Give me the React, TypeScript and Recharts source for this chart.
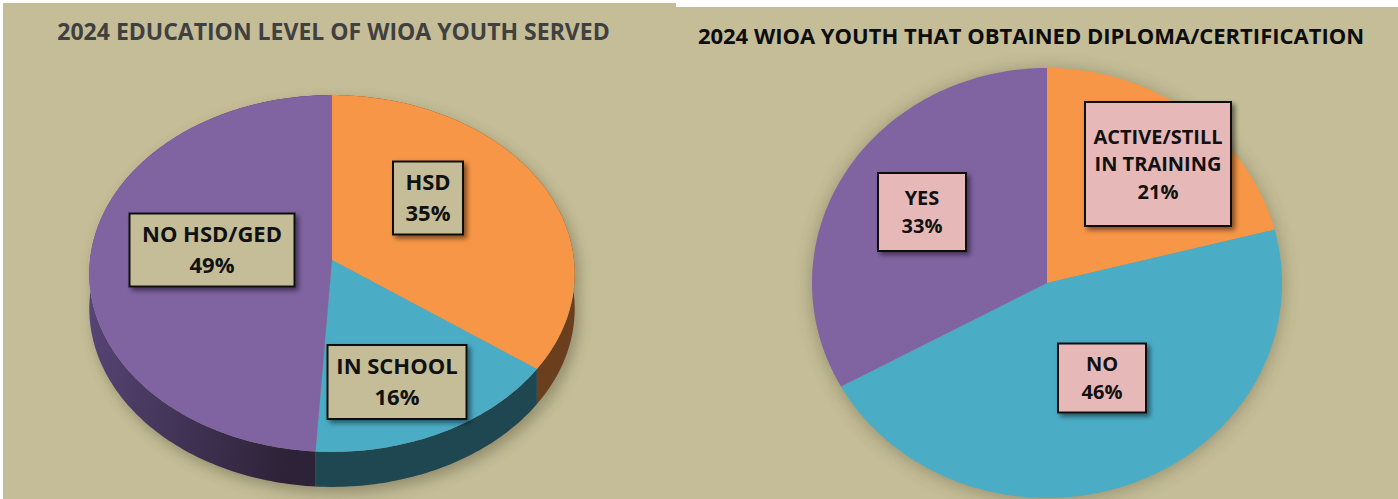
import React from 'react';
import { PieChart, Pie, Cell } from 'recharts';

// 2024 education level of WIOA youth served
const eduLevels = ['HSD', 'IN SCHOOL', 'NO HSD/GED'];
const eduShares = [35, 16, 49];

// 2024 WIOA youth that obtained diploma/certification
const diplomaStatus = ['ACTIVE/STILL IN TRAINING', 'NO', 'YES'];
const diplomaShares = [21, 46, 33];

const BG = '#C4BD97';
const TOP_COLORS = ['#F79646', '#4BACC6', '#8064A2'];
const SIDE_COLORS = ['#6B3E1E', '#1E4752', 'url(#purpleSide)'];
const FONT = "'Open Sans', sans-serif";
const NO_MARGIN = { top: 0, right: 0, bottom: 0, left: 0 };

// where each data label box sits, px from the pie centre
const EDU_BOXES = [
  { dx: 96, dy: -62, w: 70, h: 73 },
  { dx: 65, dy: 122, w: 139, h: 74 },
  { dx: -120, dy: -10, w: 165, h: 73 },
];
const DIPLOMA_BOXES = [
  { dx: 111, dy: -119, w: 146, h: 124 },
  { dx: 55, dy: 95, w: 88, h: 69 },
  { dx: -125, dy: -71, w: 88, h: 78 },
];

type Proj = { p: number; ky: number; depth: number };
// left pie is tilted (3D look), right one is flat but a bit wider than tall
const LEFT_PROJ: Proj = { p: 0.0756, ky: 0.733, depth: 35 };
const RIGHT_PROJ: Proj = { p: 0, ky: 0.915, depth: 0 };

const eduData = eduLevels.map((name, i) => ({ name, value: eduShares[i] }));
const diplomaData = diplomaStatus.map((name, i) => ({ name, value: diplomaShares[i] }));

function project(cx: number, cy: number, r: number, deg: number, pr: Proj) {
  const a = (deg * Math.PI) / 180;
  const u = Math.cos(a);
  const v = -Math.sin(a);
  const d = 1 - pr.p * v;
  return [cx + (r * u) / d, cy + (r * pr.ky * v) / d];
}

function arc(s: any, pr: Proj, shift = 0) {
  const n = Math.max(2, Math.ceil(Math.abs(s.endAngle - s.startAngle)));
  const pts: number[][] = [];
  for (let i = 0; i <= n; i++) {
    const deg = s.startAngle + ((s.endAngle - s.startAngle) * i) / n;
    const [x, y] = project(s.cx, s.cy, s.outerRadius, deg, pr);
    pts.push([x, y + shift]);
  }
  return pts;
}

const toPath = (pts: number[][]) =>
  'M' + pts.map(([x, y]) => `${x.toFixed(2)},${y.toFixed(2)}`).join('L') + 'Z';

const facePath = (s: any, pr: Proj) => toPath([[s.cx, s.cy], ...arc(s, pr)]);
const wallPath = (s: any, pr: Proj) => toPath([...arc(s, pr), ...arc(s, pr, pr.depth).reverse()]);

const faceShape = (pr: Proj) => (s: any) => <path d={facePath(s, pr)} fill={s.fill} stroke="none" />;
const wallShape = (pr: Proj) => (s: any) => <path d={wallPath(s, pr)} fill={s.fill} stroke="none" />;
const shadowShape = (pr: Proj, dx: number, dy: number, opacity: number, id: string) => (s: any) => (
  <g transform={`translate(${dx},${dy})`} filter={`url(#${id})`} opacity={opacity}>
    <path d={facePath(s, pr)} fill="#3a3520" />
    {pr.depth > 0 && <path d={wallPath(s, pr)} fill="#3a3520" />}
  </g>
);

// split long category names the way the chart wraps them
function wrap(text: string, max = 12) {
  const lines: string[] = [];
  let cur = '';
  text.split(' ').forEach((w) => {
    if (cur && (cur + ' ' + w).length > max) {
      lines.push(cur);
      cur = w;
    } else cur = cur ? cur + ' ' + w : w;
  });
  if (cur) lines.push(cur);
  return lines;
}

const boxLabel = (boxes: any[], fontSize: number, gap: number, fill: string) => (props: any) => {
  const { cx, cy, index } = props;
  const name = props.payload?.name ?? props.name;
  const value = props.payload?.value ?? props.value;
  const b = boxes[index];
  const x = cx + b.dx;
  const y = cy + b.dy;
  const lines = [...wrap(name), `${value}%`];
  return (
    <g key={`lbl-${index}`}>
      <rect
        x={x - b.w / 2}
        y={y - b.h / 2}
        width={b.w}
        height={b.h}
        fill={fill}
        stroke="#111"
        strokeWidth={2}
        filter="url(#boxShadow)"
      />
      {lines.map((t, i) => (
        <text
          key={i}
          x={x}
          y={y + (i - (lines.length - 1) / 2) * gap + 0.357 * fontSize}
          textAnchor="middle"
          fontFamily={FONT}
          fontWeight={700}
          fontSize={fontSize}
          fill="#111"
        >
          {t}
        </text>
      ))}
    </g>
  );
};

const pieCommon = {
  dataKey: 'value',
  nameKey: 'name',
  startAngle: 90,
  endAngle: -270,
  stroke: 'none',
  labelLine: false,
  isAnimationActive: false,
};

export default function App() {
  return (
    <div style={{ position: 'absolute', left: 0, top: 0, width: 1398, height: 499, background: '#fff', overflow: 'hidden' }}>
      <svg width={0} height={0} style={{ position: 'absolute' }}>
        <defs>
          <linearGradient id="purpleSide" x1="0" y1="0" x2="1" y2="0.3">
            <stop offset="0" stopColor="#5D4B80" />
            <stop offset="1" stopColor="#2E2238" />
          </linearGradient>
          <filter id="blurL" x="-20%" y="-20%" width="140%" height="140%">
            <feGaussianBlur stdDeviation="7" />
          </filter>
          <filter id="blurR" x="-20%" y="-20%" width="140%" height="140%">
            <feGaussianBlur stdDeviation="9" />
          </filter>
          <filter id="boxShadow" x="-20%" y="-20%" width="150%" height="150%">
            <feDropShadow dx="3" dy="3" stdDeviation="2.5" floodColor="#000" floodOpacity="0.5" />
          </filter>
        </defs>
      </svg>

      {/* left panel */}
      <div style={{ position: 'absolute', left: 3, top: 3, width: 673, height: 496, background: BG }}>
        <PieChart width={673} height={496} margin={NO_MARGIN}>
          <Pie {...pieCommon} data={eduData} cx={329} cy={257} outerRadius={242} shape={shadowShape(LEFT_PROJ, 4, 6, 0.35, 'blurL')}>
            {eduData.map((d) => <Cell key={d.name} fill="#3a3520" />)}
          </Pie>
          <Pie {...pieCommon} data={eduData} cx={329} cy={257} outerRadius={242} shape={wallShape(LEFT_PROJ)}>
            {eduData.map((d, i) => <Cell key={d.name} fill={SIDE_COLORS[i]} />)}
          </Pie>
          <Pie
            {...pieCommon}
            data={eduData}
            cx={329}
            cy={257}
            outerRadius={242}
            shape={faceShape(LEFT_PROJ)}
            label={boxLabel(EDU_BOXES, 22, 31, BG)}
          >
            {eduData.map((d, i) => <Cell key={d.name} fill={TOP_COLORS[i]} />)}
          </Pie>
        </PieChart>
      </div>
      <div
        style={{
          position: 'absolute', left: 0, top: 20, width: 667, textAlign: 'center',
          fontFamily: FONT, fontWeight: 700, fontSize: 23, lineHeight: '23px', color: '#404040',
        }}
      >
        2024 EDUCATION LEVEL OF WIOA YOUTH SERVED
      </div>

      {/* right panel */}
      <div style={{ position: 'absolute', left: 676, top: 7, width: 722, height: 492, background: BG }}>
        <PieChart width={722} height={492} margin={NO_MARGIN}>
          <Pie {...pieCommon} data={diplomaData} cx={371} cy={276} outerRadius={235} shape={shadowShape(RIGHT_PROJ, 0, 2, 0.35, 'blurR')}>
            {diplomaData.map((d) => <Cell key={d.name} fill="#3a3520" />)}
          </Pie>
          <Pie
            {...pieCommon}
            data={diplomaData}
            cx={371}
            cy={276}
            outerRadius={235}
            shape={faceShape(RIGHT_PROJ)}
            label={boxLabel(DIPLOMA_BOXES, 20, 27.5, '#E6B9B8')}
          >
            {diplomaData.map((d, i) => <Cell key={d.name} fill={TOP_COLORS[i]} />)}
          </Pie>
        </PieChart>
      </div>
      <div
        style={{
          position: 'absolute', left: 676, top: 24, width: 710, textAlign: 'center',
          fontFamily: FONT, fontWeight: 700, fontSize: 22, lineHeight: '22px', color: '#0D0D0D',
        }}
      >
        2024 WIOA YOUTH THAT OBTAINED DIPLOMA/CERTIFICATION
      </div>
    </div>
  );
}
